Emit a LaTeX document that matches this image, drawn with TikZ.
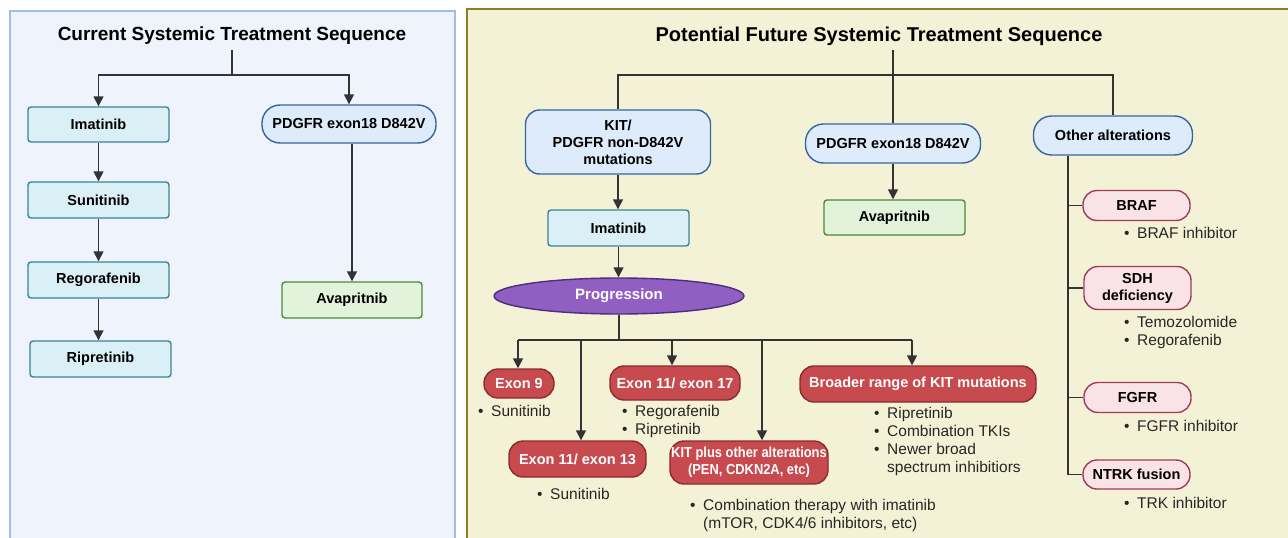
\documentclass[tikz,border=0pt]{standalone}
\usepackage{graphicx}
\usepackage{fontspec}
\setmainfont{Liberation Sans}
\usetikzlibrary{arrows.meta,shapes.geometric,calc}
\definecolor{lpfill}{HTML}{EEF3FC}
\definecolor{lpdraw}{HTML}{A4BCE3}
\definecolor{rpfill}{HTML}{F4F2D6}
\definecolor{rpdraw}{HTML}{8E7A2A}
\definecolor{tealfill}{HTML}{DBEFF6}
\definecolor{tealdraw}{HTML}{3B8495}
\definecolor{bluefill}{HTML}{DDEBFA}
\definecolor{bluedraw}{HTML}{3466A0}
\definecolor{grnfill}{HTML}{E1F3DA}
\definecolor{grndraw}{HTML}{4F8A37}
\definecolor{redfill}{HTML}{C74A4F}
\definecolor{reddraw}{HTML}{8A2B30}
\definecolor{pinkfill}{HTML}{FAE3E7}
\definecolor{pinkdraw}{HTML}{A03B55}
\definecolor{purfill}{HTML}{915FC1}
\definecolor{purdraw}{HTML}{4B2D7C}
\definecolor{linec}{HTML}{333333}
\newcommand{\bl}{\makebox[13pt][l]{\textbullet}}
\newcommand{\bi}{\hspace*{13pt}}
\newcommand{\cnd}[1]{\scalebox{0.89}[1]{#1}}
\begin{document}
\begin{tikzpicture}[x=1pt,y=-1pt,
  box/.style={draw, line width=1.4pt, inner sep=1pt, align=center, font=\fontsize{14.5}{17}\selectfont\bfseries},
  tealbox/.style={box, fill=tealfill, draw=tealdraw, rounded corners=3pt},
  greenbox/.style={box, fill=grnfill, draw=grndraw, rounded corners=3pt},
  bluepill/.style={box, fill=bluefill, draw=bluedraw, rounded corners=18pt},
  redpill/.style={box, fill=redfill, draw=reddraw, rounded corners=14pt, text=white},
  pinkpill/.style={box, fill=pinkfill, draw=pinkdraw, rounded corners=14pt},
  title/.style={font=\fontsize{19}{22}\selectfont\bfseries, inner sep=0pt},
  blist/.style={anchor=north west, inner sep=0pt, align=left, font=\fontsize{15.5}{18}\selectfont, text=black!85},
  conn/.style={draw=linec, line width=1.6pt},
  arr/.style={conn, -{Triangle[length=10pt,width=10pt]}}]
\useasboundingbox (0,0) rectangle (1288,538);
% panels
\fill[white] (0,0) rectangle (1288,538);
\draw[fill=lpfill, draw=lpdraw, line width=1.5pt] (10,11) rectangle (455,548);
\draw[fill=rpfill, draw=rpdraw, line width=2pt] (467,9) rectangle (1298,548);

% ---------------- left panel
\node[title] (titleL) at (232,36) {Current Systemic Treatment Sequence};
\coordinate (sL) at (232,50);
\coordinate (jL) at (232,75);
\node[tealbox, minimum width=141pt, minimum height=35pt] (imatL) at (98.5,124.5) {Imatinib};
\node[tealbox, minimum width=141pt, minimum height=36pt] (sunL) at (98.5,200) {Sunitinib};
\node[tealbox, minimum width=141pt, minimum height=36pt] (regL) at (98.5,280) {Regorafenib};
\node[tealbox, minimum width=141pt, minimum height=36pt] (ripL) at (100.5,359) {Ripretinib};
\node[bluepill, minimum width=174pt, minimum height=38pt] (pdgL) at (349,124) {PDGFR exon18 D842V};
\node[greenbox, minimum width=140pt, minimum height=36pt] (avaL) at (352,300) {Avapritnib};

\draw[conn] (sL) -- (jL);
\draw[arr] (jL) -| (imatL.north);
\draw[arr] (jL) -| (pdgL.north);
\draw[arr] (imatL.south) -- (sunL.north);
\draw[arr] (sunL.south) -- (regL.south |- regL.north);
\draw[arr] (regL.south) -- (regL.south |- ripL.north);
\draw[arr] (pdgL.south -| avaL.north) -- (avaL.north);

% ---------------- right panel
\node[title, font=\fontsize{20}{23}\selectfont\bfseries] (titleR) at (879,36) {Potential Future Systemic Treatment Sequence};
\coordinate (sR) at (893,50);
\coordinate (jR) at (893,75);
\node[bluepill, rounded corners=14pt, minimum width=185pt, minimum height=64pt] (kit) at (618,142) {KIT/\\PDGFR non-D842V\\mutations};
\node[bluepill, minimum width=175pt, minimum height=39pt] (pdgR) at (893,143.5) {PDGFR exon18 D842V};
\node[bluepill, minimum width=159pt, minimum height=39pt] (other) at (1113,135.5) {Other alterations};
\node[tealbox, minimum width=141pt, minimum height=36pt] (imatR) at (618.5,228) {Imatinib};
\node[greenbox, minimum width=141pt, minimum height=35pt] (avaR) at (894.5,217.5) {Avapritnib};
\node[ellipse, draw=purdraw, fill=purfill, line width=1.4pt, minimum width=250pt, minimum height=36pt, inner sep=0pt, text=white, font=\fontsize{15}{17}\selectfont\bfseries] (prog) at (619,296) {Progression};

\draw[conn] (sR) -- (pdgR.north);
\draw[conn] (jR) -| (kit.north);
\draw[conn] (jR) -| (other.north);
\draw[arr] (kit.south) -- (kit.south |- imatR.north);
\draw[arr] (pdgR.south) -- (pdgR.south |- avaR.north);
\draw[arr] (imatR.south) -- (imatR.south |- prog.north);

% red boxes
\node[redpill, minimum width=70pt, minimum height=29pt] (ex9) at (519,383.5) {Exon 9};
\node[redpill, minimum width=137pt, minimum height=36pt] (ex13) at (577.5,459) {Exon 11/ exon 13};
\node[redpill, minimum width=158pt, minimum height=43pt] (kitp) at (749,462.5) {\cnd{KIT plus other alterations}\\\cnd{(PEN, CDKN2A, etc)}};
\node[redpill, minimum width=130pt, minimum height=34pt] (ex17) at (675,383) {Exon 11/ exon 17};
\node[redpill, minimum width=236pt, minimum height=36pt] (broad) at (918,384) {Broader range of KIT mutations};

\coordinate (jP) at (619,340);
\coordinate (b9) at (518,340);
\coordinate (b13) at (581,340);
\coordinate (b17) at (672,340);
\coordinate (bkp) at (762,340);
\coordinate (bbr) at (912,340);
\draw[conn] (prog.south) -- (jP);
\draw[conn] (b9) -- (bbr);
\draw[arr] (b9) -- (b9 |- ex9.north);
\draw[arr] (b13) -- (b13 |- ex13.north);
\draw[arr] (b17) -- (b17 |- ex17.north);
\draw[arr] (bkp) -- (bkp |- kitp.north);
\draw[arr] (bbr) -- (bbr |- broad.north);

% bullet lists (middle)
\node[blist] (l9) at (478,405) {\bl Sunitinib};
\node[blist] (l13) at (537,488) {\bl Sunitinib};
\node[blist] (l17) at (622,405) {\bl Regorafenib\\\bl Ripretinib};
\node[blist] (lkp) at (690,499) {\bl Combination therapy with imatinib\\\bi (mTOR, CDK4/6 inhibitors, etc)};
\node[blist] (lbr) at (874,407) {\bl Ripretinib\\\bl Combination TKIs\\\bl Newer broad\\\bi spectrum inhibitiors};

% other alterations column
\node[pinkpill, minimum width=107pt, minimum height=30pt] (braf) at (1136.5,205.5) {BRAF};
\node[pinkpill, minimum width=107pt, minimum height=43pt] (sdh) at (1137.5,288) {SDH\\deficiency};
\node[pinkpill, minimum width=107pt, minimum height=30pt] (fgfr) at (1137.5,397.5) {FGFR};
\node[pinkpill, minimum width=107pt, minimum height=29pt] (ntrk) at (1136.5,474.5) {NTRK fusion};

\coordinate (oc) at (1068,0);
\draw[conn] (other.south -| oc) |- (ntrk.west);
\draw[conn] (other.south -| oc) |- (braf.west);
\draw[conn] (other.south -| oc) |- (sdh.west);
\draw[conn] (other.south -| oc) |- (fgfr.west);

\node[blist] (lbraf) at (1124,227) {\bl BRAF inhibitor};
\node[blist] (lsdh) at (1124,316) {\bl Temozolomide\\\bl Regorafenib};
\node[blist] (lfgfr) at (1124,420) {\bl FGFR inhibitor};
\node[blist] (lntrk) at (1124,497) {\bl TRK inhibitor};
\end{tikzpicture}
\end{document}
